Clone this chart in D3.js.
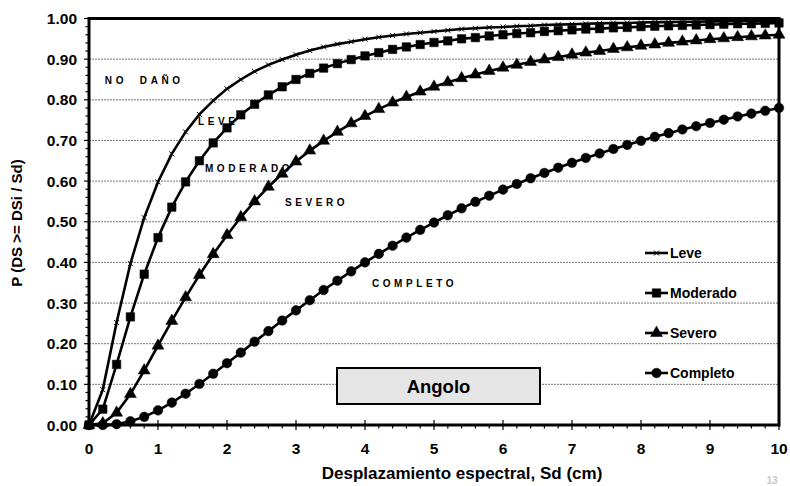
<!DOCTYPE html>
<html>
<head>
<meta charset="utf-8">
<script src="https://cdn.jsdelivr.net/npm/d3@7/dist/d3.min.js"></script>
<style>
  body { margin: 0; background: #fff; }
  text { font-family: Arial, "Liberation Sans", sans-serif; font-weight: bold; fill: #000; }
</style>
</head>
<body>
<svg id="chart" width="790" height="486"></svg>
<script>
// # --------------------------------------
// # DATA
// # --------------------------------------
const SD = [0, 0.2, 0.4, 0.6, 0.8, 1.0, 1.2, 1.4, 1.6, 1.8, 2.0, 2.2, 2.4, 2.6, 2.8, 3.0,
  3.2, 3.4, 3.6, 3.8, 4.0, 4.2, 4.4, 4.6, 4.8, 5.0, 5.2, 5.4, 5.6, 5.8, 6.0, 6.2, 6.4,
  6.6, 6.8, 7.0, 7.2, 7.4, 7.6, 7.8, 8.0, 8.2, 8.4, 8.6, 8.8, 9.0, 9.2, 9.4, 9.6, 9.8, 10];

const LEVE = [0, 0.087, 0.252, 0.397, 0.510, 0.598, 0.667, 0.721, 0.764, 0.798, 0.827,
  0.850, 0.870, 0.886, 0.899, 0.911, 0.921, 0.930, 0.937, 0.943, 0.949, 0.954, 0.958,
  0.962, 0.965, 0.968, 0.971, 0.974, 0.976, 0.978, 0.979, 0.981, 0.982, 0.984, 0.985,
  0.986, 0.987, 0.988, 0.989, 0.989, 0.990, 0.991, 0.991, 0.992, 0.992, 0.993, 0.993,
  0.994, 0.994, 0.994, 0.995];

const MODERADO = [0, 0.039, 0.149, 0.266, 0.371, 0.461, 0.536, 0.598, 0.650, 0.694,
  0.731, 0.763, 0.789, 0.812, 0.832, 0.850, 0.865, 0.878, 0.889, 0.899, 0.908, 0.916,
  0.924, 0.930, 0.936, 0.941, 0.945, 0.950, 0.953, 0.957, 0.960, 0.963, 0.965, 0.968,
  0.970, 0.972, 0.974, 0.975, 0.977, 0.978, 0.980, 0.981, 0.982, 0.983, 0.984, 0.985,
  0.986, 0.987, 0.987, 0.988, 0.989];

const SEVERO = [0, 0.004, 0.030, 0.076, 0.134, 0.195, 0.256, 0.314, 0.369, 0.420,
  0.467, 0.511, 0.550, 0.586, 0.618, 0.648, 0.675, 0.699, 0.721, 0.742, 0.760, 0.777,
  0.793, 0.807, 0.820, 0.832, 0.843, 0.853, 0.862, 0.871, 0.879, 0.886, 0.893, 0.899,
  0.905, 0.911, 0.916, 0.920, 0.925, 0.929, 0.933, 0.936, 0.940, 0.943, 0.946, 0.949,
  0.951, 0.954, 0.956, 0.958, 0.960];

const COMPLETO = [0, 0.000, 0.002, 0.009, 0.020, 0.036, 0.055, 0.077, 0.101, 0.126,
  0.152, 0.178, 0.205, 0.231, 0.257, 0.282, 0.307, 0.332, 0.355, 0.378, 0.400, 0.421,
  0.441, 0.461, 0.480, 0.498, 0.516, 0.533, 0.549, 0.564, 0.579, 0.593, 0.607, 0.620,
  0.633, 0.645, 0.657, 0.668, 0.679, 0.689, 0.699, 0.709, 0.718, 0.727, 0.735, 0.743,
  0.751, 0.759, 0.766, 0.773, 0.780];

const SERIES_NAMES = ["Leve", "Moderado", "Severo", "Completo"];
const SERIES_VALUES = [LEVE, MODERADO, SEVERO, COMPLETO];

const X_TICKS = [0, 1, 2, 3, 4, 5, 6, 7, 8, 9, 10];
const Y_TICKS = [0, 0.1, 0.2, 0.3, 0.4, 0.5, 0.6, 0.7, 0.8, 0.9, 1.0];

const ZONE_LABELS = ["NO  DAÑO", "LEVE", "MODERADO", "SEVERO", "COMPLETO"];
const ZONE_ANCHORS = [[0.23, 0.839], [1.58, 0.737], [1.68, 0.623], [2.84, 0.538], [4.10, 0.340]];

const X_TITLE = "Desplazamiento espectral, Sd (cm)";
const Y_TITLE = "P (DS >= DSi / Sd)";
const BOX_TITLE = "Angolo";

// # --------------------------------------
// # LAYOUT
// # --------------------------------------
const MARGIN = { left: 89, right: 11, top: 18.5, bottom: 61 };
const WIDTH = 790;
const HEIGHT = 486;

const SVG_SELECTION = d3.select("#chart");

const X = d3.scaleLinear().domain([0, 10]).range([MARGIN.left, WIDTH - MARGIN.right]);
const Y = d3.scaleLinear().domain([0, 1]).range([HEIGHT - MARGIN.bottom, MARGIN.top]);

// GRIDLINES
SVG_SELECTION.append("g")
  .selectAll("line")
  .data(Y_TICKS.slice(1, -1))
  .enter()
  .append("line")
  .attr("x1", X(0))
  .attr("x2", X(10))
  .attr("y1", d => Y(d))
  .attr("y2", d => Y(d))
  .attr("stroke", "#777")
  .attr("stroke-width", 1)
  .attr("stroke-dasharray", "2,1");

// ZONE LABELS (under the curves, as in the original)
SVG_SELECTION.append("g")
  .selectAll("text")
  .data(ZONE_LABELS)
  .enter()
  .append("text")
  .attr("x", (d, i) => X(ZONE_ANCHORS[i][0]))
  .attr("y", (d, i) => Y(ZONE_ANCHORS[i][1]))
  .attr("font-size", 10)
  .attr("letter-spacing", 3.6)
  .attr("xml:space", "preserve")
  .style("white-space", "pre")
  .text(d => d);

// ANGOLO BOX
SVG_SELECTION.append("rect")
  .attr("x", 337)
  .attr("y", 368)
  .attr("width", 203)
  .attr("height", 36)
  .attr("fill", "#e5e5e5")
  .attr("stroke", "#000")
  .attr("stroke-width", 2);
SVG_SELECTION.append("text")
  .attr("x", 438.5)
  .attr("y", 392.5)
  .attr("text-anchor", "middle")
  .attr("font-size", 18.5)
  .text(BOX_TITLE);

// MARKERS
const MARKERS = [
  () => "M-2.5,-2.5L2.5,2.5M-2.5,2.5L2.5,-2.5",
  d3.symbol().type(d3.symbolSquare).size(72),
  d3.symbol().type(d3.symbolTriangle).size(62),
  d3.symbol().type(d3.symbolCircle).size(72)
];

function drawMarker(sel, i) {
  sel.attr("d", MARKERS[i])
    .attr("fill", i === 0 ? "none" : "#000")
    .attr("stroke", "#000")
    .attr("stroke-width", i === 0 ? 1 : 0.5);
}

// SERIES
const LINE = d3.line()
  .x((d, i) => X(SD[i]))
  .y(d => Y(d));

SERIES_VALUES.forEach((values, s) => {
  const g = SVG_SELECTION.append("g").attr("class", "series-" + s);
  g.append("path")
    .datum(values)
    .attr("d", LINE)
    .attr("fill", "none")
    .attr("stroke", "#000")
    .attr("stroke-width", 2.6);
  g.selectAll("path.marker")
    .data(values)
    .enter()
    .append("path")
    .attr("class", "marker")
    .attr("transform", (d, i) => "translate(" + X(SD[i]) + "," + Y(d) + ")")
    .call(drawMarker, s);
});

// FRAME
SVG_SELECTION.append("rect")
  .attr("x", X(0))
  .attr("y", Y(1))
  .attr("width", X(10) - X(0))
  .attr("height", Y(0) - Y(1))
  .attr("fill", "none")
  .attr("stroke", "#000")
  .attr("stroke-width", 3);

// Y AXIS
const Y_MINOR = d3.range(0, 51).map(i => i / 50);
SVG_SELECTION.append("g")
  .selectAll("line")
  .data(Y_MINOR)
  .enter()
  .append("line")
  .attr("x1", d => X(0) - (Math.round(d * 50) % 5 === 0 ? 5 : 3.5))
  .attr("x2", X(0))
  .attr("y1", d => Y(d))
  .attr("y2", d => Y(d))
  .attr("stroke", "#000")
  .attr("stroke-width", 1.2);

SVG_SELECTION.append("g")
  .selectAll("text")
  .data(Y_TICKS)
  .enter()
  .append("text")
  .attr("x", 77)
  .attr("y", d => Y(d) + 5.5)
  .attr("text-anchor", "end")
  .attr("font-size", 15.5)
  .text(d3.format(".2f"));

// X AXIS
const X_MINOR = d3.range(0, 51).map(i => i / 5);
SVG_SELECTION.append("g")
  .selectAll("line")
  .data(X_MINOR)
  .enter()
  .append("line")
  .attr("x1", d => X(d))
  .attr("x2", d => X(d))
  .attr("y1", d => Y(0) - (Math.round(d * 5) % 5 === 0 ? 5 : 0))
  .attr("y2", d => Y(0) + (Math.round(d * 5) % 5 === 0 ? 5 : 3.5))
  .attr("stroke", "#000")
  .attr("stroke-width", 1.2);

SVG_SELECTION.append("g")
  .selectAll("text")
  .data(X_TICKS)
  .enter()
  .append("text")
  .attr("x", d => X(d))
  .attr("y", 454)
  .attr("text-anchor", "middle")
  .attr("font-size", 15.5)
  .text(d => d);

// TITLES
SVG_SELECTION.append("text")
  .attr("x", 462)
  .attr("y", 479)
  .attr("text-anchor", "middle")
  .attr("font-size", 17)
  .text(X_TITLE);

SVG_SELECTION.append("text")
  .attr("transform", "translate(22,223) rotate(-90)")
  .attr("text-anchor", "middle")
  .attr("font-size", 15)
  .text(Y_TITLE);

// LEGEND
const LEGEND = SVG_SELECTION.append("g")
  .selectAll("g")
  .data(SERIES_NAMES)
  .enter()
  .append("g")
  .attr("transform", (d, i) => "translate(645," + (253 + i * 40) + ")");
LEGEND.append("line")
  .attr("x1", 0)
  .attr("x2", 23)
  .attr("stroke", "#000")
  .attr("stroke-width", 2.6);
LEGEND.append("path")
  .attr("transform", "translate(11.5,0)")
  .each(function (d, i) { d3.select(this).call(drawMarker, i); });
LEGEND.append("text")
  .attr("x", 25)
  .attr("y", 5)
  .attr("font-size", 14)
  .text(d => d);

// PAGE NUMBER (faint)
SVG_SELECTION.append("text")
  .attr("x", 772)
  .attr("y", 484)
  .attr("text-anchor", "middle")
  .attr("font-size", 10)
  .attr("font-weight", "normal")
  .style("fill", "#c8c8c8")
  .text("13");
</script>
</body>
</html>
